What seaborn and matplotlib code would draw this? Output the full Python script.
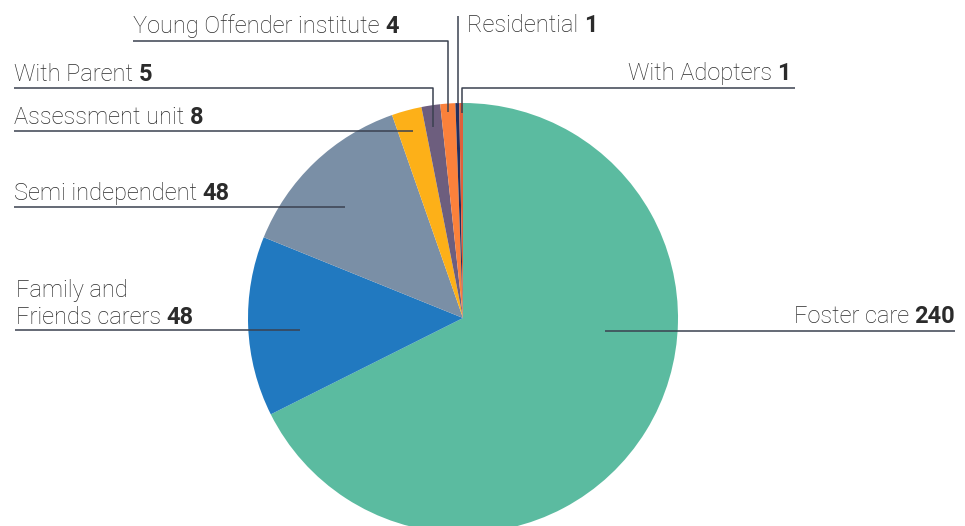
import matplotlib
matplotlib.use("Agg")
import matplotlib.pyplot as plt
import seaborn as sns

sns.set_theme(style="white")
plt.rcParams["font.family"] = ["Roboto", "DejaVu Sans"]

# Placement types and counts, clockwise from the top of the pie
categories = ["Foster care", "Family and\nFriends carers", "Semi independent",
              "Assessment unit", "With Parent", "Young Offender institute",
              "Residential", "With Adopters"]
counts = [240, 48, 48, 8, 5, 4, 1, 1]
colors = ["#5bbba0", "#2179c0", "#7a8fa6", "#fdb018", "#6d5e7e",
          "#fb813b", "#232f5e", "#e0603a"]

W, H = 965, 526
fig = plt.figure(figsize=(W / 100, H / 100), dpi=100)
ax = fig.add_axes([0, 0, 1, 1])

ax.pie(counts, colors=colors, startangle=90, counterclock=False,
       center=(463, H - 318), radius=215,
       wedgeprops=dict(linewidth=0, antialiased=True))
ax.set_xlim(0, W)
ax.set_ylim(0, H)
ax.set_aspect("equal")
ax.axis("off")

LINE = "#3b4150"
TXT = "#2b2b2b"
FS = 17


def py(y):
    return H - y


# label text anchor (x, baseline y, alignment) and leader polyline (pixel coords)
layout = {
    "Foster care": ((955, 323, "right"), [(955, 331), (605, 331)]),
    "Family and\nFriends carers": ((16, 324, "left"), [(15, 330), (300, 330)]),
    "Semi independent": ((14, 200, "left"), [(14, 207), (345, 207)]),
    "Assessment unit": ((14, 124, "left"), [(14, 131), (413, 131)]),
    "With Parent": ((14, 81, "left"), [(14, 88), (433, 88), (433, 127)]),
    "Young Offender institute": ((133, 33, "left"), [(133, 41), (448, 41), (448, 112)]),
    "Residential": ((467, 32, "left"), [(458, 16), (458, 103)]),
    "With Adopters": ((791, 80, "right"), [(795, 88), (462, 88), (462, 113)]),
}

fig.canvas.draw()
renderer = fig.canvas.get_renderer()

for name, val in zip(categories, counts):
    (tx, ty, ha), pts = layout[name]
    ax.plot([p[0] for p in pts], [py(p[1]) for p in pts], color=LINE,
            lw=1.1, solid_capstyle="butt", zorder=3)
    if ha == "left":
        t = ax.text(tx, py(ty), name + " ", ha="left", va="baseline",
                    fontsize=FS, fontweight="light", color=TXT,
                    linespacing=1.2)
        bb = t.get_window_extent(renderer)
        ax.text(bb.x1, py(ty), str(val), ha="left", va="baseline",
                fontsize=FS, fontweight="bold", color=TXT)
    else:
        t = ax.text(tx, py(ty), str(val), ha="right", va="baseline",
                    fontsize=FS, fontweight="bold", color=TXT)
        bb = t.get_window_extent(renderer)
        ax.text(bb.x0, py(ty), name + " ", ha="right", va="baseline",
                fontsize=FS, fontweight="light", color=TXT)

fig.savefig("out.png", dpi=100)
